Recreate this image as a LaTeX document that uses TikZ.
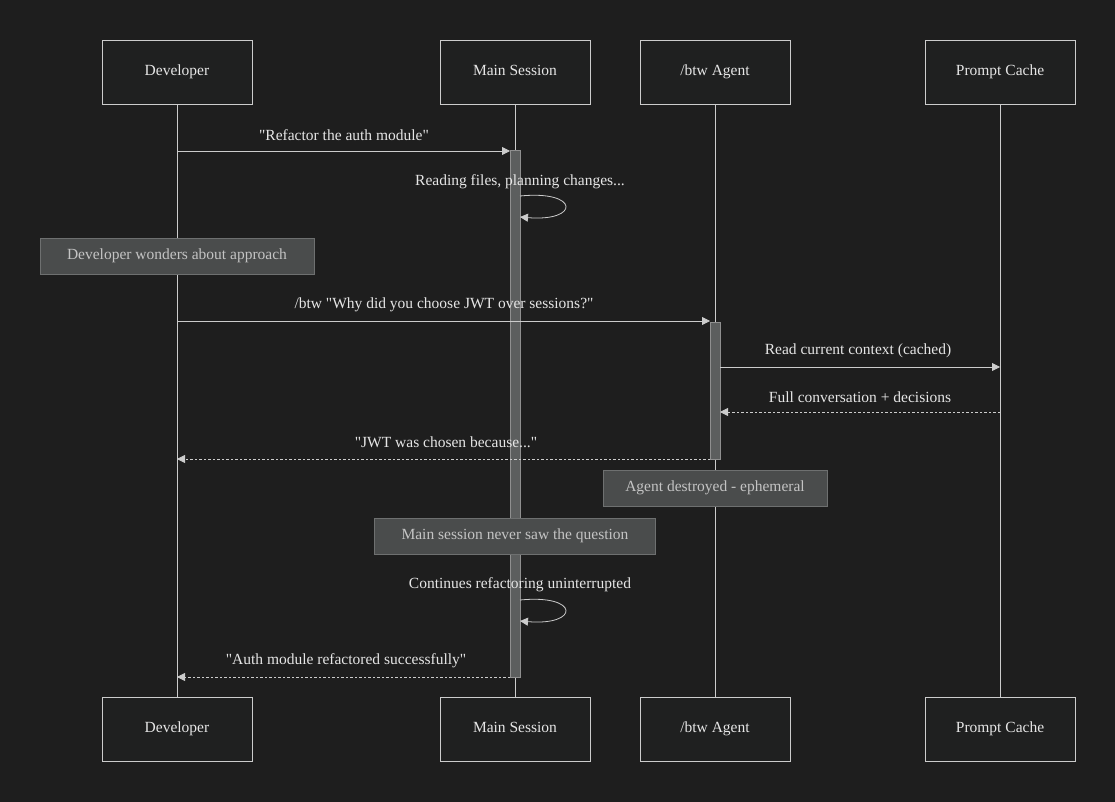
\documentclass[tikz,border=0pt]{standalone}
\usepackage{fontspec}
\setmainfont{Liberation Serif}
\usetikzlibrary{arrows.meta}
\definecolor{bgc}{HTML}{1E1E1E}
\definecolor{boxc}{HTML}{1F2020}
\definecolor{linec}{HTML}{CCCCCC}
\definecolor{notec}{HTML}{4A4C4C}
\definecolor{txtc}{HTML}{E6E6E6}
\newcommand{\qt}{\textquotedbl}
\tikzset{
  actor/.style={draw=linec, fill=boxc, minimum width=150pt, minimum height=64pt,
    text=txtc, font=\fontsize{15.5}{18}\selectfont, text height=10pt, text depth=3pt},
  note/.style={draw=notec!80!white, fill=notec, minimum height=36pt, inner xsep=0pt,
    text=txtc!85!black, font=\fontsize{15.5}{18}\selectfont, text height=10pt, text depth=3pt},
  act/.style={draw=linec!70!black, fill=notec!90!white},
  msg/.style={-{Triangle[length=8pt,width=8pt]}, draw=linec, line width=0.8pt},
  reply/.style={msg, dashed, dash pattern=on 2.5pt off 2pt},
  lbl/.style={text=txtc, font=\fontsize{15.5}{18}\selectfont, inner sep=0pt}
}
\begin{document}
\begin{tikzpicture}[x=1pt,y=-1pt]
  \fill[bgc] (0,0) rectangle (1115,802);
  \useasboundingbox (0,0) rectangle (1115,802);
  % lifelines
  \foreach \n/\x in {dev/177,main/515,agent/715,cache/1000}
    \draw[linec, line width=0.8pt] (\x,104) -- (\x,697);
  \node[actor] (dev) at (177,72) {Developer};
  \node[actor] (main) at (515,72) {Main Session};
  \node[actor] (agent) at (715,72) {/btw Agent};
  \node[actor] (cache) at (1000,72) {Prompt Cache};
  \node[actor] (dev2) at (177,729) {Developer};
  \node[actor] (main2) at (515,729) {Main Session};
  \node[actor] (agent2) at (715,729) {/btw Agent};
  \node[actor] (cache2) at (1000,729) {Prompt Cache};
  % activations
  \draw[act] (510,150) rectangle (520,677);
  \draw[act] (710,322) rectangle (720,459);
  % anchor points
  \coordinate (d1) at (177,151); \coordinate (m1) at (510,151);
  \coordinate (d3) at (177,321); \coordinate (a3) at (710,321);
  \coordinate (a4) at (720,367); \coordinate (c4) at (1000,367);
  \coordinate (c5) at (1000,412); \coordinate (a5) at (720,412);
  \coordinate (a6) at (710,459); \coordinate (d6) at (177,459);
  \coordinate (m8) at (510,677); \coordinate (d8) at (177,677);
  \draw[msg] (d1) -- (m1);
  \node[lbl] (t1) at (344,135) {\qt Refactor the auth module\qt};
  \draw[msg] (520,196) .. controls (580,190) and (580,222) .. (520,217);
  \node[lbl] (t2) at (520,182) {Reading files, planning changes...};
  \node[note, minimum width=274pt] (n1) at (177,256) {Developer wonders about approach};
  \draw[msg] (d3) -- (a3);
  \node[lbl] (t3) at (444,305) {/btw \qt Why did you choose JWT over sessions?\qt};
  \draw[msg] (a4) -- (c4);
  \node[lbl] (t4) at (858,351) {Read current context (cached)};
  \draw[reply] (c5) -- (a5);
  \node[lbl] (t5) at (860,397) {Full conversation + decisions};
  \draw[reply] (a6) -- (d6);
  \node[lbl] (t6) at (446,442) {\qt JWT was chosen because...\qt};
  \node[note, minimum width=224pt] (n2) at (715,488) {Agent destroyed - ephemeral};
  \node[note, minimum width=281pt] (n3) at (515,536) {Main session never saw the question};
  \draw[msg] (520,600) .. controls (580,594) and (580,626) .. (520,621);
  \node[lbl] (t7) at (520,585) {Continues refactoring uninterrupted};
  \draw[reply] (m8) -- (d8);
  \node[lbl] (t8) at (346,661) {\qt Auth module refactored successfully\qt};
\end{tikzpicture}
\end{document}
